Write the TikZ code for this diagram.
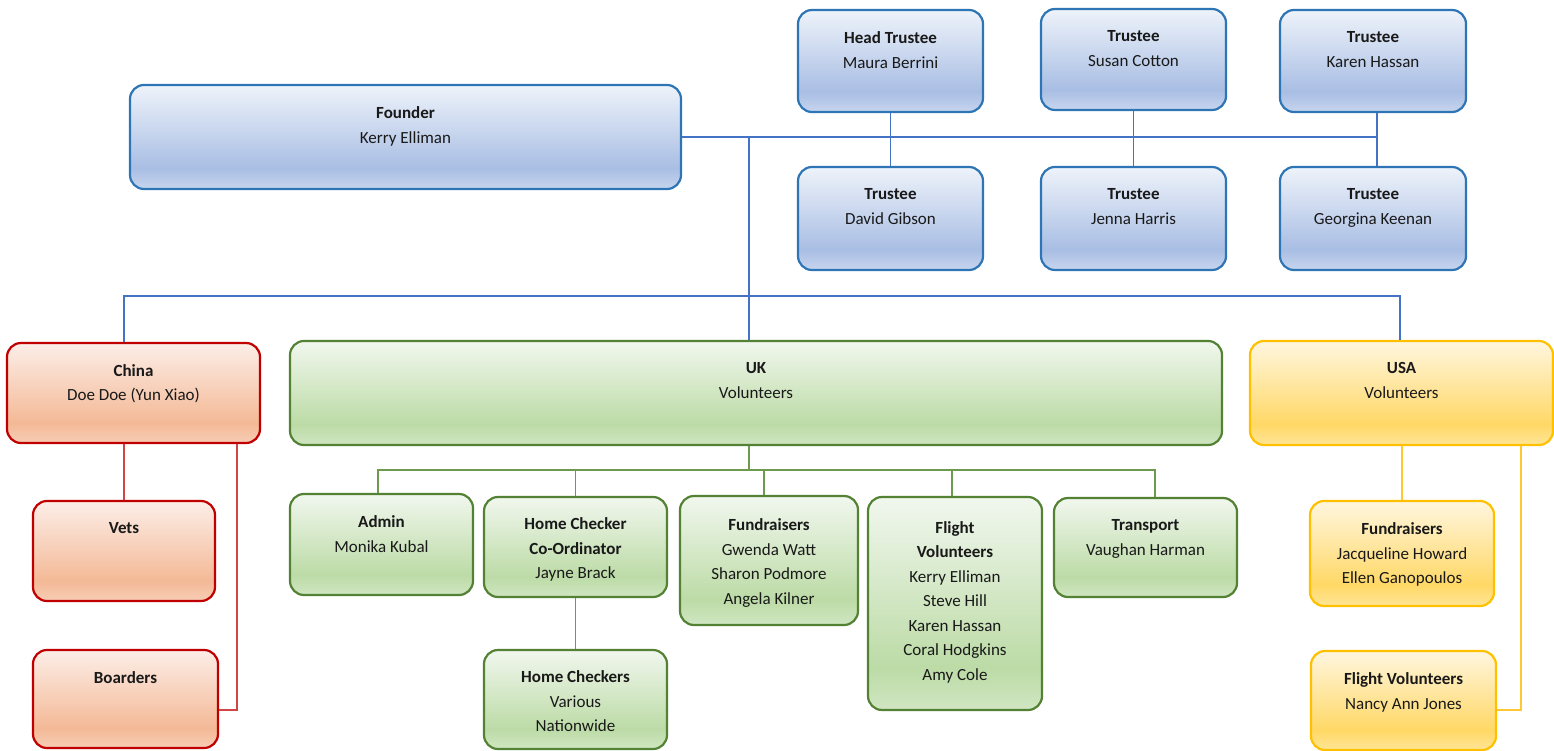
\documentclass[tikz,border=0pt]{standalone}
\usepackage{fontspec}
\setmainfont{Carlito}

\definecolor{blueT}{HTML}{EEF3FA}
\definecolor{blueD}{HTML}{A9BEE4}
\definecolor{blueL}{HTML}{C7D5EE}
\definecolor{blueB}{HTML}{2E75B6}
\definecolor{blueC}{HTML}{4472C4}
\definecolor{redT}{HTML}{FCEEE8}
\definecolor{redD}{HTML}{F4B996}
\definecolor{redL}{HTML}{F7CDB5}
\definecolor{redB}{HTML}{C00000}
\definecolor{redC}{HTML}{D04545}
\definecolor{greenT}{HTML}{F1F7EE}
\definecolor{greenD}{HTML}{BCDBA6}
\definecolor{greenL}{HTML}{D0E6C2}
\definecolor{greenB}{HTML}{548235}
\definecolor{greenC}{HTML}{6E9A50}
\definecolor{yelT}{HTML}{FFF6DF}
\definecolor{yelD}{HTML}{FFD866}
\definecolor{yelL}{HTML}{FFE596}
\definecolor{yelB}{HTML}{FFC000}
\definecolor{yelC}{HTML}{FFC832}

\pgfdeclareverticalshading{blueshade}{100bp}{color(0bp)=(blueL); color(25bp)=(blueL); color(35bp)=(blueD); color(75bp)=(blueT); color(100bp)=(blueT)}
\pgfdeclareverticalshading{redshade}{100bp}{color(0bp)=(redL); color(25bp)=(redL); color(35bp)=(redD); color(75bp)=(redT); color(100bp)=(redT)}
\pgfdeclareverticalshading{greenshade}{100bp}{color(0bp)=(greenL); color(25bp)=(greenL); color(35bp)=(greenD); color(75bp)=(greenT); color(100bp)=(greenT)}
\pgfdeclareverticalshading{yelshade}{100bp}{color(0bp)=(yelL); color(25bp)=(yelL); color(35bp)=(yelD); color(75bp)=(yelT); color(100bp)=(yelT)}

\tikzset{
	orgbox/.style={rounded corners=14pt, line width=2.2pt, inner sep=0pt, shade},
	boxsize/.style 2 args={minimum width=#1, minimum height=#2},
	blueorg/.style={orgbox, draw=blueB, shading=blueshade},
	redorg/.style={orgbox, draw=redB, shading=redshade},
	greenorg/.style={orgbox, draw=greenB, shading=greenshade},
	yelorg/.style={orgbox, draw=yelB, shading=yelshade},
	names/.style={anchor=north, align=center, inner sep=0pt, text=black!90, font=\fontsize{17}{24.5}\selectfont},
	blueline/.style={draw=blueC, line width=1.1pt},
	redline/.style={draw=redC, line width=1.1pt},
	greenline/.style={draw=greenC, line width=1.1pt},
	yelline/.style={draw=yelC, line width=1.1pt}
}

\begin{document}
\begin{tikzpicture}[x=1pt, y=-1pt]
	\useasboundingbox (0,0) rectangle (1554,751);
	%founder + trustees
		\node[blueorg, boxsize={551pt}{104pt}] (founder) at (405.5,137) {};
		\node[blueorg, boxsize={185pt}{102pt}] (headtr) at (890.5,61) {};
		\node[blueorg, boxsize={185pt}{101pt}] (trcotton) at (1133.5,59.5) {};
		\node[blueorg, boxsize={186pt}{102pt}] (trhassan) at (1373,61) {};
		\node[blueorg, boxsize={185pt}{103pt}] (trgibson) at (890.5,218.5) {};
		\node[blueorg, boxsize={185pt}{103pt}] (trharris) at (1133.5,218.5) {};
		\node[blueorg, boxsize={186pt}{103pt}] (trkeenan) at (1373,218.5) {};
		\node[names] (foundert) at ([yshift=-22.5pt]founder.north) {\textbf{Founder}\\Kerry Elliman};
		\node[names] (headtrt) at ([yshift=-22.5pt]headtr.north) {\textbf{Head Trustee}\\Maura Berrini};
		\node[names] (trcottont) at ([yshift=-22.5pt]trcotton.north) {\textbf{Trustee}\\Susan Cotton};
		\node[names] (trhassant) at ([yshift=-22.5pt]trhassan.north) {\textbf{Trustee}\\Karen Hassan};
		\node[names] (trgibsont) at ([yshift=-22.5pt]trgibson.north) {\textbf{Trustee}\\David Gibson};
		\node[names] (trharrist) at ([yshift=-22.5pt]trharris.north) {\textbf{Trustee}\\Jenna Harris};
		\node[names] (trkeenant) at ([yshift=-22.5pt]trkeenan.north) {\textbf{Trustee}\\Georgina Keenan};
	%country boxes
		\node[redorg, boxsize={253pt}{100pt}] (china) at (133.5,393) {};
		\node[greenorg, boxsize={932pt}{104pt}] (uk) at (756,393) {};
		\node[yelorg, boxsize={303pt}{104pt}] (usa) at (1401.5,393) {};
		\node[names] (chinat) at ([yshift=-22pt]china.north) {\textbf{China}\\Doe Doe (Yun Xiao)};
		\node[names] (ukt) at ([yshift=-22.5pt]uk.north) {\textbf{UK}\\Volunteers};
		\node[names] (usat) at ([yshift=-22.5pt]usa.north) {\textbf{USA}\\Volunteers};
	%china teams
		\node[redorg, boxsize={182pt}{100pt}] (vets) at (124,551) {};
		\node[redorg, boxsize={185pt}{98pt}] (boarders) at (125.5,699) {};
		\node[names] (vetst) at ([yshift=-22pt]vets.north) {\textbf{Vets}};
		\node[names] (boarderst) at ([yshift=-22pt]boarders.north) {\textbf{Boarders}};
	%uk teams
		\node[greenorg, boxsize={183pt}{101pt}] (admin) at (381.5,544.5) {};
		\node[greenorg, boxsize={183pt}{100pt}] (hcc) at (575.5,547) {};
		\node[greenorg, boxsize={178pt}{129pt}] (ukfund) at (769,560.5) {};
		\node[greenorg, boxsize={174pt}{213pt}] (ukflight) at (955,603.5) {};
		\node[greenorg, boxsize={183pt}{99pt}] (transport) at (1145.5,547.5) {};
		\node[greenorg, boxsize={183pt}{99pt}] (homechk) at (575.5,699.5) {};
		\node[names] (admint) at ([yshift=-22.5pt]admin.north) {\textbf{Admin}\\Monika Kubal};
		\node[names] (hcct) at ([yshift=-21.5pt]hcc.north) {\textbf{Home Checker}\\\textbf{Co-Ordinator}\\Jayne Brack};
		\node[names] (ukfundt) at ([yshift=-23.5pt]ukfund.north) {\textbf{Fundraisers}\\Gwenda Watt\\Sharon Podmore\\Angela Kilner};
		\node[names] (ukflightt) at ([yshift=-25pt]ukflight.north) {\textbf{Flight}\\\textbf{Volunteers}\\Kerry Elliman\\Steve Hill\\Karen Hassan\\Coral Hodgkins\\Amy Cole};
		\node[names] (transportt) at ([yshift=-22.5pt]transport.north) {\textbf{Transport}\\Vaughan Harman};
		\node[names] (homechkt) at ([yshift=-21.5pt]homechk.north) {\textbf{Home Checkers}\\Various\\Nationwide};
	%usa teams
		\node[yelorg, boxsize={184pt}{105pt}] (usafund) at (1402,553.5) {};
		\node[yelorg, boxsize={185pt}{99pt}] (usaflight) at (1403.5,700.5) {};
		\node[names] (usafundt) at ([yshift=-22.5pt]usafund.north) {\textbf{Fundraisers}\\Jacqueline Howard\\Ellen Ganopoulos};
		\node[names] (usaflightt) at ([yshift=-22.5pt]usaflight.north) {\textbf{Flight Volunteers}\\Nancy Ann Jones};
	%blue lines
		\coordinate (hub) at (749,137);
		\coordinate (bus) at (749,296);
		\draw[blueline] (founder.east) -- ([xshift=4pt]trhassan.south |- founder.east);
		\draw[blueline] (headtr) -- (trgibson);
		\draw[blueline] (trcotton) -- (trharris);
		\draw[blueline] ([xshift=4pt]trhassan.south) -- ([xshift=4pt]trkeenan.north);
		\draw[blueline] (hub) -- ([xshift=-7pt]uk.north);
		\draw[blueline] (china.north -| vets.north) |- (bus) -| ([xshift=-1.5pt]usa.north);
	%red lines
		\draw[redline] (china.south -| vets.north) -- (vets.north);
		\draw[redline] ([xshift=103.5pt]china.south) |- ([yshift=-11pt]boarders.east);
	%green lines
		\coordinate (ukbus) at (749,470);
		\draw[greenline] ([xshift=-7pt]uk.south) -- (ukbus);
		\draw[greenline] ([xshift=-3.5pt]admin.north) |- (ukbus) -| ([xshift=9.5pt]transport.north);
		\draw[greenline] (hcc.north) |- (ukbus);
		\draw[greenline] ([xshift=-5pt]ukfund.north) |- (ukbus);
		\draw[greenline] ([xshift=-3pt]ukflight.north) |- (ukbus);
		\draw[greenline] (hcc) -- (homechk);
	%yellow lines
		\draw[yelline] (usa.south -| usafund.north) -- (usafund.north);
		\draw[yelline] ([xshift=119.5pt]usa.south) |- ([yshift=-9.5pt]usaflight.east);
\end{tikzpicture}
\end{document}
